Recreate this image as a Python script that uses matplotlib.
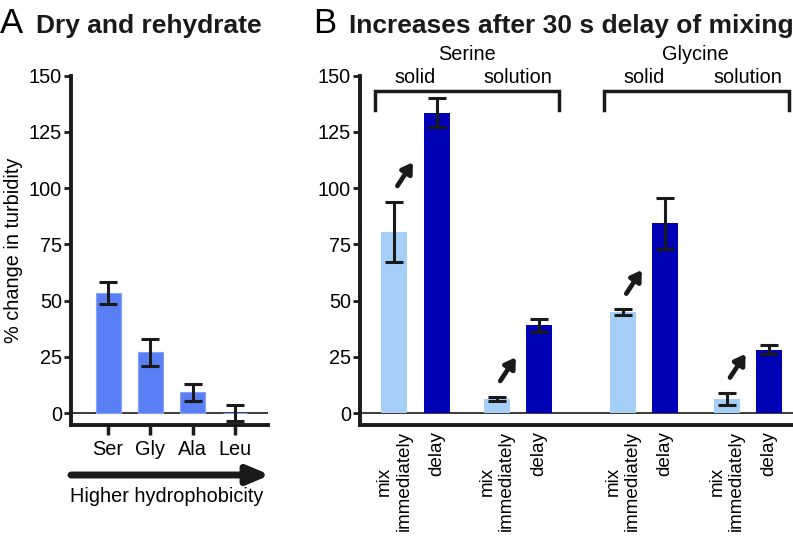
import matplotlib
matplotlib.use('Agg')
import matplotlib.pyplot as plt

plt.rcParams['font.family'] = ['Liberation Sans', 'DejaVu Sans']

# panel A: dry and rehydrate
amino = ['Ser', 'Gly', 'Ala', 'Leu']
a_vals = [53.5, 27, 9.2, 0.1]
a_err = [5, 6, 3.7, 3.5]

# panel B: 30 s delay of mixing
b_labels = ['mix\nimmediately', 'delay'] * 4
b_vals = [80.5, 133.5, 6.3, 39.0, 44.8, 84.3, 6.3, 28.1]
b_err = [13.5, 6.5, 1.0, 3.0, 1.3, 11.5, 2.5, 2.0]
groups = ['Serine', 'Glycine']
states = ['solid', 'solution']

W, H = 793, 539
fig = plt.figure(figsize=(W / 100, H / 100), dpi=100)

def rect(x0, x1, ytop, ybot):
    return [x0 / W, 1 - ybot / H, (x1 - x0) / W, (ybot - ytop) / H]

k = '#1a1a1a'
fs = 14.3
spine_lw = 2.8

def style_axes(ax):
    for s in ['top', 'right']:
        ax.spines[s].set_visible(False)
    for s in ['left', 'bottom']:
        ax.spines[s].set_linewidth(spine_lw)
        ax.spines[s].set_color(k)
    ax.set_ylim(-5.3, 150)
    ax.set_yticks([0, 25, 50, 75, 100, 125, 150])
    ax.tick_params(axis='y', length=5, width=2, color=k, labelsize=fs, pad=1.5)
    ax.axhline(0, color=k, lw=1.2, zorder=1)

# ---- panel A
axA = fig.add_axes(rect(71, 268, 75.7, 425))
style_axes(axA)
xa = list(range(len(amino)))
axA.bar(xa, a_vals, width=0.59, color='#5a7ff5', edgecolor='#86a3f8', lw=0.8, zorder=2)
axA.errorbar(xa, a_vals, yerr=a_err, fmt='none', ecolor=k, elinewidth=2.2,
             capsize=6.5, capthick=2.2, zorder=3)
axA.set_xlim(-0.875, 3.78)
axA.set_xticks(xa)
axA.set_xticklabels(amino)
axA.tick_params(axis='x', length=7, width=2.5, color=k, labelsize=fs, pad=4)
axA.set_ylabel('% change in turbidity', fontsize=fs, labelpad=4)

axA.annotate('', xy=(270 / W, 1 - 475 / H), xytext=(71 / W, 1 - 475 / H),
             xycoords='figure fraction',
             arrowprops=dict(arrowstyle='-|>,head_length=1.3,head_width=0.55',
                             lw=5, color=k, shrinkA=0, shrinkB=0))
fig.text(167 / W, 1 - 496 / H, 'Higher hydrophobicity', fontsize=fs,
         ha='center', va='center')

fig.text(0 / W, 1 - 33 / H, 'A', fontsize=25, ha='left', va='baseline')
fig.text(36 / W, 1 - 33 / H, 'Dry and rehydrate', fontsize=19,
         fontweight='bold', ha='left', va='baseline', color=k)

# ---- panel B
axB = fig.add_axes(rect(360, 793, 75.7, 425))
style_axes(axB)
xb = [0, 1.02, 2.45, 3.45, 5.45, 6.45, 7.92, 8.92]
cols = ['#a6cff8', '#0000b4'] * 4
axB.bar(xb, b_vals, width=0.62, color=cols, zorder=2)
axB.errorbar(xb, b_vals, yerr=b_err, fmt='none', ecolor=k, elinewidth=2.2,
             capsize=6.5, capthick=2.2, zorder=3)
axB.set_xlim(-0.81, 9.5)
axB.set_xticks(xb)
axB.set_xticklabels(b_labels, rotation=90, ha='center', va='top',
                    multialignment='center')
axB.tick_params(axis='x', length=0, labelsize=13.6, pad=4.5)

# arrows between mix immediately and delay
for i in range(0, len(xb), 2):
    y0 = b_vals[i] + b_err[i] + 7
    axB.annotate('', xy=(xb[i] + 0.45, y0 + 10.5), xytext=(xb[i] + 0.08, y0),
                 arrowprops=dict(arrowstyle='-|>,head_length=0.6,head_width=0.38',
                                 lw=3.4, color=k, shrinkA=0, shrinkB=0), zorder=4)

# group brackets and labels
for g in range(2):
    left = xb[4 * g] - 0.45
    right = xb[4 * g + 3] + 0.48
    axB.plot([left, left, right, right], [134.7, 143, 143, 134.7], color=k,
             lw=2.5, solid_joinstyle='miter', clip_on=False)
    mid1 = (xb[4 * g] + xb[4 * g + 1]) / 2
    mid2 = (xb[4 * g + 2] + xb[4 * g + 3]) / 2
    axB.text(mid1, 149, states[0], fontsize=fs, ha='center', va='center')
    axB.text(mid2, 149, states[1], fontsize=fs, ha='center', va='center')
    axB.text((mid1 + mid2) / 2, 159.5, groups[g], fontsize=fs, ha='center',
             va='center', clip_on=False)

fig.text(313 / W, 1 - 33 / H, 'B', fontsize=25, ha='left', va='baseline')
fig.text(349 / W, 1 - 33 / H, 'Increases after 30 s delay of mixing',
         fontsize=19, fontweight='bold', ha='left', va='baseline', color=k)

fig.savefig('out.png', dpi=100)
